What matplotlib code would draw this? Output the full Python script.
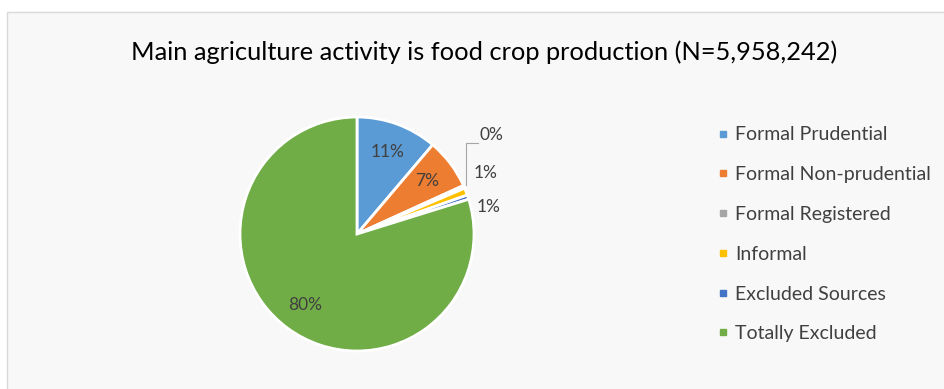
import matplotlib
matplotlib.use("Agg")
import matplotlib.pyplot as plt
from matplotlib.patches import Rectangle
from matplotlib.lines import Line2D
import numpy as np

categories = ["Formal Prudential", "Formal Non-prudential", "Formal Registered",
              "Informal", "Excluded Sources", "Totally Excluded"]
values = [11.2, 7.0, 0.4, 1.0, 0.6, 79.8]
labels = ["11%", "7%", "0%", "1%", "1%", "80%"]
colors = ["#5B9BD5", "#ED7D31", "#A5A5A5", "#FFC000", "#4472C4", "#70AD47"]
title = "Main agriculture activity is food crop production (N=5,958,242)"

W, H = 945, 389
fig = plt.figure(figsize=(W / 100, H / 100), dpi=100)
fig.patch.set_facecolor("white")

# chart area frame
bg = Rectangle((7 / W, -0.05), 1.1, (H - 12) / H + 0.05,
               transform=fig.transFigure, facecolor="#F8F8F8",
               edgecolor="#D9D9D9", linewidth=1.0, zorder=-10)
fig.add_artist(bg)

font = ["Lato", "DejaVu Sans"]
fig.text(484 / W, 1 - 52 / H, title, ha="center", va="center",
         fontsize=18.3, color="#000000", family=font)

cx, cy, r = 357, 234, 117
ax = fig.add_axes([(cx - r) / W, (H - cy - r) / H, 2 * r / W, 2 * r / H])
ax.patch.set_alpha(0)

wedges, _ = ax.pie(values, colors=colors, startangle=90, counterclock=False,
                   radius=1.0, wedgeprops=dict(edgecolor="white", linewidth=2))
ax.set_xlim(-1, 1)
ax.set_ylim(-1, 1)
ax.axis("off")

# inside labels for large slices
for w, lab, v in zip(wedges, labels, values):
    if v > 5:
        ang = np.deg2rad((w.theta1 + w.theta2) / 2)
        ax.text(0.75 * np.cos(ang), 0.75 * np.sin(ang), lab, ha="center",
                va="center", fontsize=12.5, color="#404040", family=font)

# outside labels for small slices
outer_pos = {2: (1.05, 0.85), 3: (1.00, 0.52), 4: (1.02, 0.23)}
for i, (lx, ly) in outer_pos.items():
    ax.text(lx, ly, labels[i], ha="left", va="center", fontsize=12.5,
            color="#404040", family=font, clip_on=False)
# leader line for 0%
ax.plot([0.93, 0.93, 1.03], [0.42, 0.78, 0.78], color="#A5A5A5",
        lw=0.8, clip_on=False)

handles = [Line2D([0], [0], marker="s", linestyle="none", markersize=5,
                  markerfacecolor=c, markeredgecolor=c) for c in colors]
fig.legend(handles, categories, loc="upper left",
           bbox_to_anchor=(698 / W, 1 - 109 / H), frameon=False,
           handletextpad=0.2, handlelength=0.8, labelspacing=1.17,
           prop=dict(family=font, size=14), labelcolor="#404040")

fig.savefig("out.png", dpi=100)
